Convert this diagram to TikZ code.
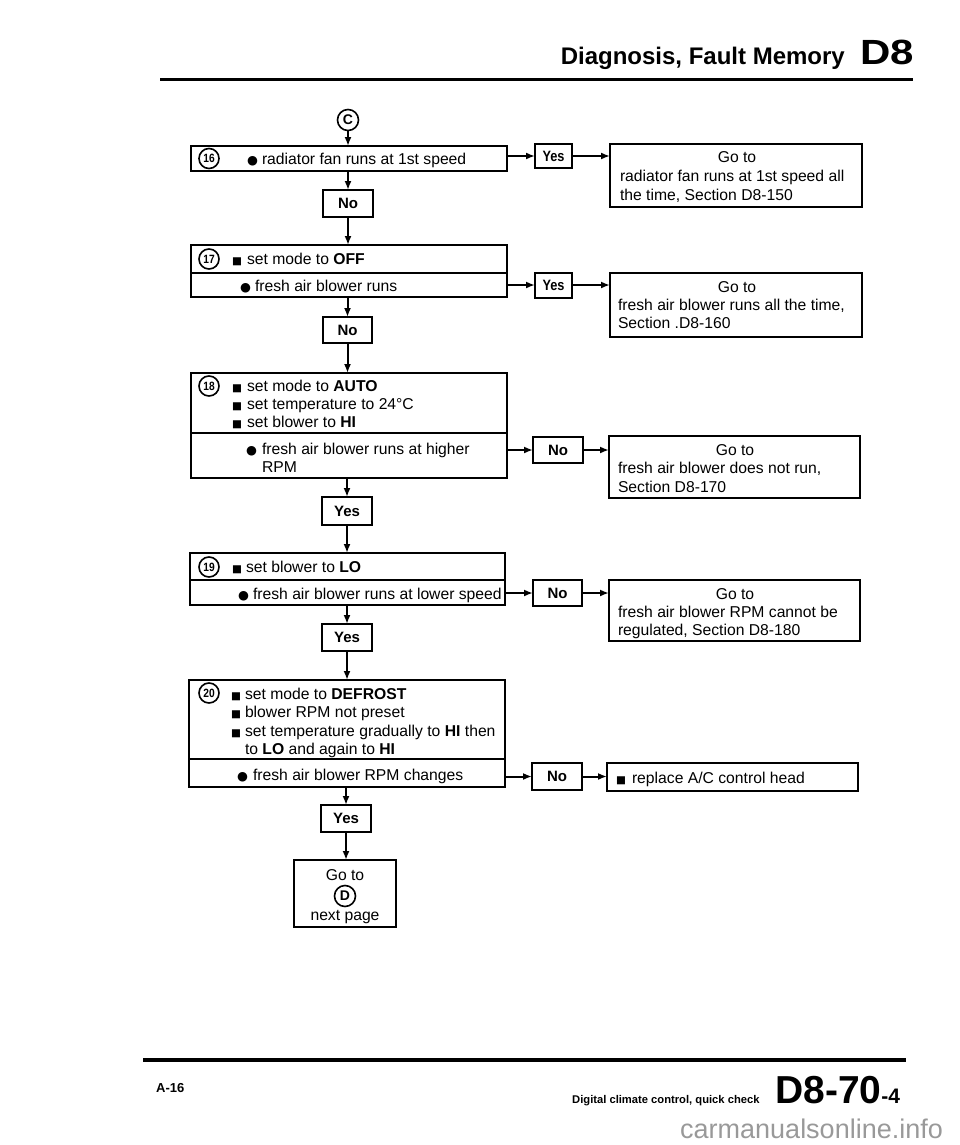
\documentclass[tikz,border=0pt]{standalone}
\usepackage{fontspec}
\setmainfont{Liberation Sans}
\newfontfamily\symf{DejaVu Sans}
\usetikzlibrary{arrows.meta}
\newcommand\sqb{{\symf\fontsize{10.5}{10.5}\selectfont ■}}
\newcommand\bul{{\symf\fontsize{12.5}{12.5}\selectfont ●}}
\newcommand\bx[7][box]{\node[#1,minimum width=#5pt,minimum height=#6pt] (#2) at (#3,#4) {#7};}
\newcommand\tl[5][tx]{\node[#1] (#2) at (#3,#4) {#5};}
\newcommand\cn[1]{\scalebox{0.85}[1]{#1}}
\begin{document}
\begin{tikzpicture}[x=1pt,y=-1pt,
 box/.style={draw,line width=2pt,inner sep=0pt,outer sep=0pt},
 yn/.style={box,font=\bfseries\fontsize{15}{15}\selectfont},
 tx/.style={inner sep=0pt,outer sep=0pt,anchor=base west,font=\fontsize{15.7}{18}\selectfont},
 tc/.style={tx,anchor=base},
 num/.style={draw,circle,line width=1.6pt,minimum size=20pt,inner sep=0pt,font=\bfseries\fontsize{12}{12}\selectfont},
 arr/.style={line width=2pt,-{Latex[length=9pt,width=7pt]}},
]
\useasboundingbox (0,0) rectangle (960,1145);
% header
\node[anchor=base east,inner sep=0pt,font=\bfseries\fontsize{24}{24}\selectfont] (title) at (845,65) {Diagnosis, Fault Memory};
\node[anchor=base west,inner sep=0pt,font=\bfseries\fontsize{35}{35}\selectfont] (hd) at (860,65) {\scalebox{1.2}[1]{D8}};
\draw[line width=3pt] (160,80) -- (913,80);
% connector C
\node[num,minimum size=21pt,font=\bfseries\fontsize{14}{14}\selectfont] (cC) at (348,120) {C};
% left column boxes
\bx{b16}{349}{158.5}{316}{25}{}
\bx[yn]{n1}{348}{203.5}{50}{27}{No}
\bx{b17a}{349}{259}{316}{28}{}
\bx{b17b}{349}{285}{316}{24}{}
\bx[yn]{n2}{347.5}{330}{49}{26}{No}
\bx{b18a}{349}{403}{316}{60}{}
\bx{b18b}{349}{455.5}{316}{45}{}
\bx[yn]{ys3}{347}{511}{50}{28}{Yes}
\bx{b19a}{347.5}{566.5}{315}{27}{}
\bx{b19b}{347.5}{592.5}{315}{25}{}
\bx[yn]{ys4}{347}{637.5}{50}{27}{Yes}
\bx{b20a}{347}{719.5}{316}{79}{}
\bx{b20b}{347}{773}{316}{28}{}
\bx[yn]{ys5}{346}{818.5}{50}{27}{Yes}
\bx{gD}{345}{893.5}{102}{67}{}
% right column boxes
\bx[yn]{ys1}{553.5}{156}{37}{24}{\cn{Yes}}
\bx{g1}{736}{175.5}{252}{63}{}
\bx[yn]{ys2}{553.5}{285}{37}{25}{\cn{Yes}}
\bx{g2}{736}{305}{252}{64}{}
\bx[yn]{n3}{558}{450}{50}{26}{No}
\bx{g3}{734.5}{467}{251}{62}{}
\bx[yn]{n4}{557.5}{593}{49}{26}{No}
\bx{g4}{734.5}{610.5}{251}{61}{}
\bx[yn]{n5}{557}{776.5}{50}{27}{No}
\bx{r5}{732.5}{777}{251}{28}{}
% step numbers
\node[num] (s16) at (209,158.5) {\cn{16}};
\node[num] (s17) at (209,259) {\cn{17}};
\node[num] (s18) at (209,386) {\cn{18}};
\node[num] (s19) at (209,567) {\cn{19}};
\node[num] (s20) at (209,693) {\cn{20}};
% texts of left boxes
\tl{t16}{247}{164}{\makebox[15pt][l]{\bul}radiator fan runs at 1st speed}
\tl{t17a}{232}{264.5}{\makebox[15pt][l]{\sqb}set mode to \textbf{OFF}}
\tl{t17b}{240}{291}{\makebox[15pt][l]{\bul}fresh air blower runs}
\tl{t18a}{232}{391.5}{\makebox[15pt][l]{\sqb}set mode to \textbf{AUTO}}
\tl{t18b}{232}{409.5}{\makebox[15pt][l]{\sqb}set temperature to 24°C}
\tl{t18c}{232}{427.5}{\makebox[15pt][l]{\sqb}set blower to \textbf{HI}}
\tl{t18d}{246}{454.5}{\makebox[16pt][l]{\bul}fresh air blower runs at higher}
\tl{t18e}{262}{472.5}{RPM}
\tl{t19a}{232}{572.5}{\makebox[14pt][l]{\sqb}set blower to \textbf{LO}}
\tl{t19b}{238}{599.5}{\makebox[15pt][l]{\bul}fresh air blower runs at lower speed}
\tl{t20a}{231}{699}{\makebox[14pt][l]{\sqb}set mode to \textbf{DEFROST}}
\tl{t20b}{231}{717.5}{\makebox[14pt][l]{\sqb}blower RPM not preset}
\tl{t20c}{231}{736}{\makebox[14pt][l]{\sqb}set temperature gradually to \textbf{HI} then}
\tl{t20d}{245}{754.5}{to \textbf{LO} and again to \textbf{HI}}
\tl{t20e}{237}{780.5}{\makebox[16pt][l]{\bul}fresh air blower RPM changes}
\tl[tc]{tD1}{345}{880.5}{Go to}
\node[num,minimum size=21pt,font=\bfseries\fontsize{14}{14}\selectfont] (cD) at (345,896) {D};
\tl[tc]{tD2}{345}{920.5}{next page}
% texts of right boxes
\tl[tc]{tg1a}{737}{162.5}{Go to}
\tl{tg1b}{620}{181.5}{radiator fan runs at 1st speed all}
\tl{tg1c}{620}{200.5}{the time, Section D8-150}
\tl[tc]{tg2a}{737}{292.5}{Go to}
\tl{tg2b}{618}{310.5}{fresh air blower runs all the time,}
\tl{tg2c}{618}{328.5}{Section .D8-160}
\tl[tc]{tg3a}{735}{455.5}{Go to}
\tl{tg3b}{618}{473.5}{fresh air blower does not run,}
\tl{tg3c}{618}{492}{Section D8-170}
\tl[tc]{tg4a}{735}{599.5}{Go to}
\tl{tg4b}{618}{617.5}{fresh air blower RPM cannot be}
\tl{tg4c}{618}{635.5}{regulated, Section D8-180}
\tl{tr5}{616}{783}{\makebox[16pt][l]{\sqb}replace A/C control head}
% vertical connectors
\draw[arr] (cC.south) -- (cC.south |- b16.north);
\draw[arr] (n1.north |- b16.south) -- (n1.north);
\draw[arr] (n1.south) -- (n1.south |- b17a.north);
\draw[arr] (n2.north |- b17b.south) -- (n2.north);
\draw[arr] (n2.south) -- (n2.south |- b18a.north);
\draw[arr] (ys3.north |- b18b.south) -- (ys3.north);
\draw[arr] (ys3.south) -- (ys3.south |- b19a.north);
\draw[arr] (ys4.north |- b19b.south) -- (ys4.north);
\draw[arr] (ys4.south) -- (ys4.south |- b20a.north);
\draw[arr] (ys5.north |- b20b.south) -- (ys5.north);
\draw[arr] (ys5.south) -- (ys5.south |- gD.north);
% horizontal connectors
\draw[arr] (ys1.west -| b16.east) -- (ys1.west);
\draw[arr] (ys1.east) -- (ys1.east -| g1.west);
\draw[arr] (ys2.west -| b17b.east) -- (ys2.west);
\draw[arr] (ys2.east) -- (ys2.east -| g2.west);
\draw[arr] (n3.west -| b18b.east) -- (n3.west);
\draw[arr] (n3.east) -- (n3.east -| g3.west);
\draw[arr] (n4.west -| b19b.east) -- (n4.west);
\draw[arr] (n4.east) -- (n4.east -| g4.west);
\draw[arr] (n5.west -| b20b.east) -- (n5.west);
\draw[arr] (n5.east) -- (n5.east -| r5.west);
% footer
\draw[line width=3.5pt] (143,1060) -- (906,1060);
\node[anchor=base west,inner sep=0pt,font=\bfseries\fontsize{13}{13}\selectfont] (pg) at (156,1092) {A-16};
\node[anchor=base west,inner sep=0pt,font=\bfseries\fontsize{11.2}{11.2}\selectfont] (ft) at (572,1103) {Digital climate control, quick check};
\node[anchor=base west,inner sep=0pt,font=\bfseries] (fd) at (775,1103) {{\fontsize{39}{39}\selectfont D8-70}{\fontsize{21}{21}\selectfont -4}};
\node[anchor=base west,inner sep=0pt,font=\fontsize{27}{27}\selectfont,text=black!40] (wm) at (680,1138) {carmanualsonline.info};
\end{tikzpicture}
\end{document}
